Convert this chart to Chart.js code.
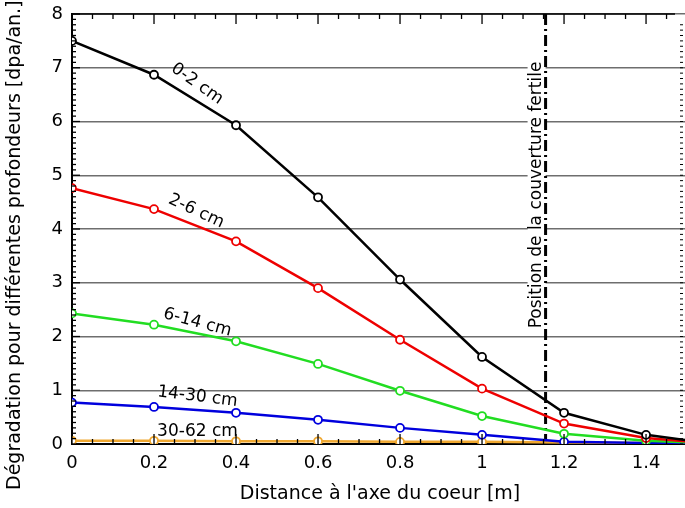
<!DOCTYPE html>
<html><head><meta charset="utf-8">
<script src="https://cdn.jsdelivr.net/npm/chart.js@4"></script>
<style>html,body{margin:0;padding:0;background:#fff}canvas{display:block}</style>
</head><body>
<canvas id="c" width="685" height="508"></canvas>
<script>
const distances = [0, 0.2, 0.4, 0.6, 0.8, 1.0, 1.2, 1.4, 1.5];
const seriesNames = ['0-2 cm', '2-6 cm', '6-14 cm', '14-30 cm', '30-62 cm'];
const d0_2   = [7.50, 6.87, 5.93, 4.59, 3.06, 1.62, 0.58, 0.17, 0.07];
const d2_6   = [4.76, 4.37, 3.77, 2.90, 1.94, 1.03, 0.38, 0.11, 0.05];
const d6_14  = [2.43, 2.22, 1.91, 1.49, 0.99, 0.52, 0.19, 0.06, 0.03];
const d14_30 = [0.77, 0.69, 0.58, 0.45, 0.30, 0.17, 0.04, 0.02, 0.01];
const d30_62 = [0.06, 0.06, 0.05, 0.05, 0.04, 0.04, 0.03, 0.02, 0.01];
const fertileX = 1.155;
const yTicks = [0,1,2,3,4,5,6,7,8];
const xTickLabels = ['0','0.2','0.4','0.6','0.8','1','1.2','1.4'];
const xTitle = "Distance à l'axe du coeur [m]";
const yTitle = "Dégradation pour différentes profondeurs [dpa/an.]";
const fertileLabel = "Position de la couverture fertile";

const FONT = '"DejaVu Sans", sans-serif';
const colors = ['#000000', '#ee0000', '#22dd22', '#0000dd', '#f0a830'];
const allData = [d0_2, d2_6, d6_14, d14_30, d30_62];
// series label anchors: [x, y, angle deg]
const labelPos = [[0.305, 6.70, 35], [0.303, 4.33, 25], [0.306, 2.26, 15], [0.306, 0.88, 7], [0.306, 0.24, 0]];

const datasets = allData.map((arr, i) => ({
  label: seriesNames[i],
  data: distances.map((x, j) => ({x, y: arr[j]})),
  borderColor: colors[i],
  backgroundColor: '#ffffff',
  borderWidth: 2.5,
  pointRadius: distances.map(x => x > 1.45 ? 0 : 4),
  pointBorderWidth: 1.8,
  pointBackgroundColor: '#ffffff',
  pointBorderColor: colors[i],
  tension: 0,
  order: i
}));

const decor = {
  id: 'decor',
  beforeDatasetsDraw(chart) {
    const {ctx, chartArea: a, scales: {x, y}} = chart;
    ctx.save();
    const lx = x.getPixelForValue(fertileX) - 9;
    const ly = 195;
    ctx.translate(lx, ly);
    ctx.rotate(-Math.PI / 2);
    ctx.font = '17px ' + FONT;
    ctx.textAlign = 'center';
    ctx.textBaseline = 'middle';
    const w = ctx.measureText(fertileLabel).width;
    ctx.fillStyle = '#fff';
    ctx.fillRect(-w / 2 - 2, -9, w + 4, 18);
    ctx.fillStyle = '#000';
    ctx.fillText(fertileLabel, 0, 0);
    ctx.restore();
    ctx.save();
    ctx.strokeStyle = '#000';
    ctx.lineWidth = 3;
    ctx.setLineDash([11, 4, 2, 4]);
    const vx = x.getPixelForValue(fertileX);
    ctx.beginPath();
    ctx.moveTo(vx, a.top);
    ctx.lineTo(vx, a.bottom);
    ctx.stroke();
    ctx.restore();
  },
  afterDraw(chart) {
    const {ctx, chartArea: a, scales: {x, y}} = chart;
    ctx.save();
    ctx.strokeStyle = '#000';
    ctx.lineWidth = 1.5;
    ctx.beginPath();
    ctx.moveTo(a.left, a.top);
    ctx.lineTo(a.right - 10, a.top);
    ctx.stroke();
    ctx.lineWidth = 1.3;
    for (let k = 0; k <= 30; k++) {
      const v = k * 0.05;
      const px = x.getPixelForValue(v);
      if (px > a.right - 8) continue;
      const major = k % 4 === 0;
      const len = major ? 10 : 5;
      ctx.beginPath();
      ctx.moveTo(px, a.bottom); ctx.lineTo(px, a.bottom - len);
      ctx.moveTo(px, a.top); ctx.lineTo(px, a.top + len);
      ctx.stroke();
    }
    for (let k = 0; k <= 80; k++) {
      const v = k * 0.1;
      const py = y.getPixelForValue(v);
      const major = k % 10 === 0;
      const len = major ? 8 : 4;
      ctx.beginPath();
      ctx.moveTo(a.left, py); ctx.lineTo(a.left + len, py);
      ctx.stroke();
      if (py > a.top + 8) {
        ctx.beginPath();
        ctx.lineWidth = 1;
        ctx.moveTo(a.right - 2, py); ctx.lineTo(a.right - 5, py);
        ctx.stroke();
        ctx.lineWidth = 1.3;
      }
    }
    ctx.fillStyle = '#000';
    ctx.font = '17px ' + FONT;
    ctx.textAlign = 'center';
    ctx.textBaseline = 'middle';
    labelPos.forEach((p, i) => {
      ctx.save();
      ctx.translate(x.getPixelForValue(p[0]), y.getPixelForValue(p[1]));
      ctx.rotate(p[2] * Math.PI / 180);
      ctx.fillText(seriesNames[i], 0, 0);
      ctx.restore();
    });
    ctx.font = '19px ' + FONT;
    ctx.fillText(xTitle, 380, 494);
    ctx.save();
    ctx.translate(15, 490);
    ctx.rotate(-Math.PI / 2);
    ctx.textAlign = 'left';
    ctx.fillText(yTitle, 0, 0);
    ctx.restore();
    ctx.restore();
  }
};

new Chart(document.getElementById('c'), {
  type: 'line',
  data: { datasets },
  options: {
    responsive: false,
    animation: false,
    layout: { autoPadding: false, padding: { left: 0, right: 0, top: 0, bottom: 0 } },
    plugins: { legend: { display: false }, tooltip: { enabled: false } },
    scales: {
      x: {
        type: 'linear', min: 0, max: 1.495,
        afterBuildTicks: s => { s.ticks = xTickLabels.map(t => ({value: parseFloat(t)})); },
        afterFit: s => { s.height = 64; },
        ticks: { color: '#000', font: { size: 18, family: FONT }, padding: 9,
          callback: v => xTickLabels.find(t => Math.abs(parseFloat(t) - v) < 1e-6) || '' },
        grid: { display: false, drawTicks: false },
        border: { color: '#000', width: 2 }
      },
      y: {
        min: 0, max: 8,
        afterBuildTicks: s => { s.ticks = yTicks.map(v => ({value: v})); },
        afterFit: s => { s.width = 72; s.paddingTop = 14; },
        ticks: { color: '#000', font: { size: 18, family: FONT }, padding: 9 },
        grid: { color: '#6e6e6e', lineWidth: 1.5, drawTicks: false },
        border: { color: '#000', width: 2 }
      }
    }
  },
  plugins: [decor]
});
</script>
</body></html>
